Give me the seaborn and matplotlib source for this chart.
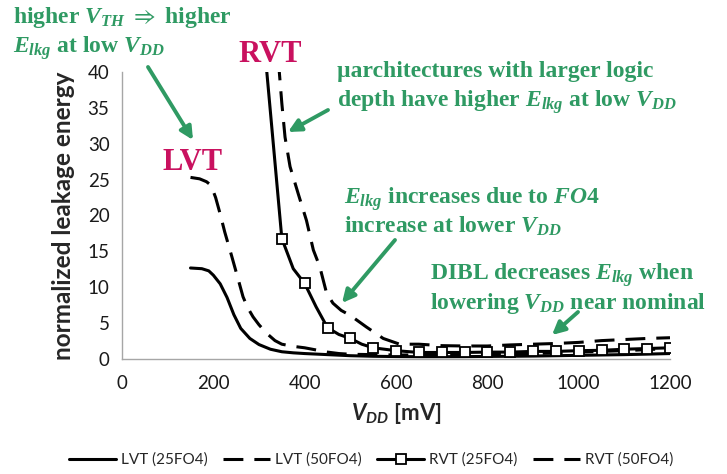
import numpy as np
import pandas as pd
import matplotlib
matplotlib.use("Agg")
import matplotlib.pyplot as plt
import seaborn as sns

# ---- data: normalized leakage energy vs supply voltage ----
vdd_lvt25 = [150, 175, 190, 200, 215, 230, 245, 260, 280, 300, 325, 350, 375, 400, 450,
             500, 550, 600, 650, 700, 750, 800, 850, 900, 950, 1000, 1050, 1100, 1150, 1200]
lvt_25fo4 = [12.7, 12.6, 12.3, 11.7, 10.5, 8.6, 6.2, 4.3, 2.9, 2.05, 1.4, 1.05, 0.9, 0.8, 0.65,
             0.5, 0.42, 0.38, 0.36, 0.36, 0.37, 0.4, 0.42, 0.45, 0.5, 0.55, 0.6, 0.65, 0.72, 0.8]

vdd_lvt50 = [150, 170, 185, 195, 205, 215, 225, 240, 255, 265, 275, 287, 300, 317, 335, 350,
             375, 400, 425, 450, 475, 500, 550, 600, 650, 700, 750, 800, 850, 900, 950, 1000,
             1050, 1100, 1150, 1200]
lvt_50fo4 = [25.3, 25.1, 24.7, 24.2, 22.5, 20.2, 17.7, 14.4, 11.0, 8.7, 7.2, 5.9, 4.8, 3.6, 2.6,
             2.1, 1.8, 1.6, 1.3, 1.0, 0.8, 0.7, 0.65, 0.6, 0.6, 0.62, 0.65, 0.7, 0.75, 0.8, 0.9,
             1.0, 1.1, 1.2, 1.35, 1.5]

vdd_rvt25 = [300, 350, 375, 400, 425, 450, 475, 500, 525, 550, 600, 650, 700, 750, 800, 850,
             900, 950, 1000, 1050, 1100, 1150, 1200]
rvt_25fo4 = [52.0, 16.8, 12.6, 10.55, 7.3, 4.4, 3.45, 2.9, 2.1, 1.6, 1.2, 0.95, 0.95, 0.95, 1.0,
             1.0, 1.1, 1.1, 1.2, 1.25, 1.4, 1.5, 1.6]
rvt25_marked = [v >= 350 and v % 50 == 0 for v in vdd_rvt25]

vdd_rvt50 = [300, 350, 357, 368, 386, 404, 419, 433, 448, 462, 480, 500, 535, 572, 608, 650,
             700, 750, 800, 850, 900, 950, 1000, 1050, 1100, 1150, 1200]
rvt_50fo4 = [75.0, 35.6, 30.9, 26.8, 23.0, 19.3, 15.2, 12.9, 9.2, 7.8, 6.8, 6.1, 4.5, 2.9, 2.1,
             2.1, 1.9, 1.85, 1.85, 2.0, 2.1, 2.2, 2.35, 2.6, 2.75, 2.9, 3.0]

series_labels = ["LVT (25FO4)", "LVT (50FO4)", "RVT (25FO4)", "RVT (50FO4)"]
y_ticks = [0, 5, 10, 15, 20, 25, 30, 35, 40]
x_ticks = [0, 200, 400, 600, 800, 1000, 1200]

sns.set_style("white")
plt.rcParams["mathtext.fontset"] = "custom"
plt.rcParams["mathtext.rm"] = "Liberation Serif:bold"
plt.rcParams["mathtext.it"] = "Liberation Serif:italic:bold"
plt.rcParams["mathtext.bf"] = "Liberation Serif:bold"
plt.rcParams["mathtext.sf"] = "Lato:italic:bold"
plt.rcParams["mathtext.fallback"] = "stix"
plt.rcParams["font.family"] = ["Lato", "DejaVu Sans"]

W, H = 727, 474
fig = plt.figure(figsize=(W / 100, H / 100), dpi=100)
ax = fig.add_axes([122 / W, 1 - 359.3 / H, 548 / W, 287.6 / H])

frames = [
    pd.DataFrame({"vdd": vdd_lvt25, "e": lvt_25fo4}),
    pd.DataFrame({"vdd": vdd_lvt50, "e": lvt_50fo4}),
    pd.DataFrame({"vdd": vdd_rvt25, "e": rvt_25fo4}),
    pd.DataFrame({"vdd": vdd_rvt50, "e": rvt_50fo4}),
]
dash = (0, (6.5, 3.6))
styles = [
    dict(linestyle="-"),
    dict(linestyle=dash),
    dict(linestyle="-", marker="s", markersize=7.5, markerfacecolor="white",
         markeredgecolor="black", markeredgewidth=1.3, markevery=rvt25_marked),
    dict(linestyle=dash),
]
for df, lab, st in zip(frames, series_labels, styles):
    sns.lineplot(data=df, x="vdd", y="e", ax=ax, color="black", lw=2.2,
                 label=lab, sort=False, estimator=None, **st)

ax.set_xlim(0, 1200)
ax.set_ylim(0, 40)
ax.set_yticks(y_ticks)
ax.set_xticks(x_ticks)
ax.set_xticks(np.arange(100, 1200, 200), minor=True)
for s in ["top", "right"]:
    ax.spines[s].set_visible(False)
for s in ["left", "bottom"]:
    ax.spines[s].set_color("#a6a6a6")
    ax.spines[s].set_linewidth(1.0)
ax.tick_params(axis="both", which="both", direction="out", length=5, width=1.0,
               color="#a6a6a6", labelsize=13.5, labelcolor="#1a1a1a", pad=4)
ax.tick_params(axis="x", pad=6)

ax.set_ylabel("normalized leakage energy", fontsize=17.5, fontweight="bold", labelpad=9)
ax.set_xlabel(r"$\mathsf{V}_{\mathsf{DD}}$ [mV]", fontsize=16, fontweight="bold", labelpad=7)

leg = ax.legend(loc="upper center", bbox_to_anchor=(371 / W, 0.058), bbox_transform=fig.transFigure,
                ncol=4, frameon=False, fontsize=11, handlelength=3.1, handletextpad=0.3,
                columnspacing=1.0, borderaxespad=0)
for h in leg.get_lines():
    h.set_linewidth(2.2)

# ---- annotations ----
green = "#2f9a63"
magenta = "#c9115f"


def fp(x, y):
    return (x / W, 1 - y / H)


tkw = dict(family="Liberation Serif", fontweight="bold", color=green, fontsize=17,
           ha="left", va="baseline")
fig.text(*fp(13, 23), r"higher $V_{TH}$ $\Rightarrow$ higher", **tkw)
fig.text(*fp(13, 53), r"$E_{lkg}$ at low $V_{DD}$", **tkw)
fig.text(*fp(337, 77), "\u00b5architectures with larger logic", **tkw)
fig.text(*fp(337, 107), r"depth have higher $E_{lkg}$ at low $V_{DD}$", **tkw)
fig.text(*fp(344, 204), r"$E_{lkg}$ increases due to $FO$4", **tkw)
fig.text(*fp(344, 233), r"increase at lower $V_{DD}$", **tkw)
fig.text(*fp(430, 280), r"DIBL decreases $E_{lkg}$ when", **tkw)
fig.text(*fp(430, 309), r"lowering $V_{DD}$ near nominal", **tkw)

mkw = dict(family="Liberation Serif", fontweight="bold", color=magenta, fontsize=22,
           ha="center", va="baseline")
fig.text(*fp(193, 170), "LVT", **mkw)
fig.text(*fp(270, 62), "RVT", **mkw)

arrows = [((148, 67), (193, 140)), ((328, 110), (288, 132)),
          ((395, 240), (342, 303)), ((578, 312), (552, 335))]
for tail, tip in arrows:
    fig.add_artist(matplotlib.patches.FancyArrowPatch(
        fp(*tail), fp(*tip), transform=fig.transFigure, arrowstyle="-|>",
        mutation_scale=19, color=green, lw=2.8, shrinkA=0, shrinkB=0))

fig.savefig("out.png", dpi=100)
